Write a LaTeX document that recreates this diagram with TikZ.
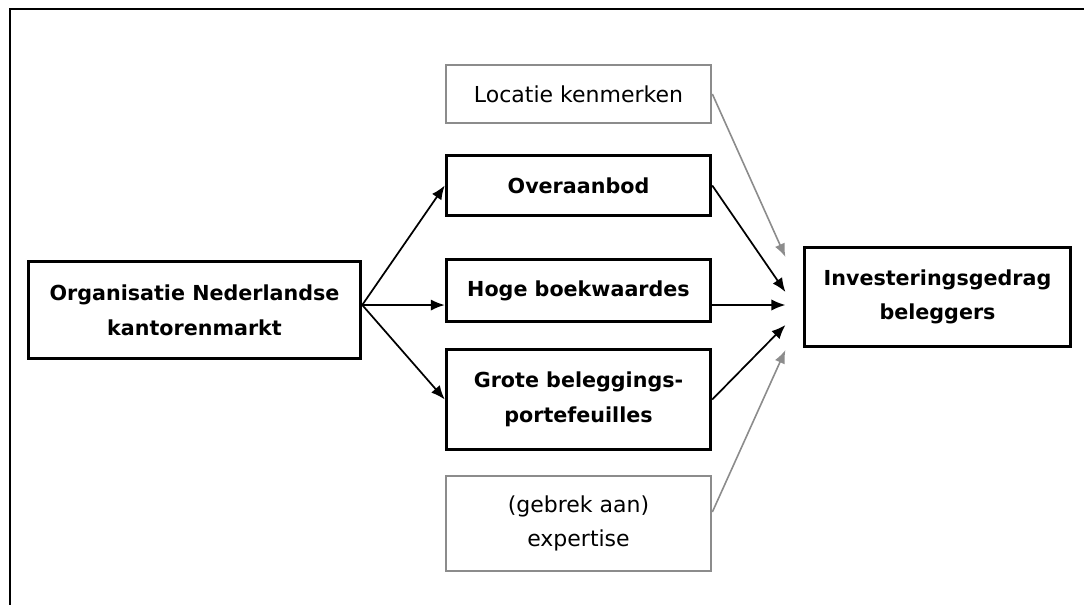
\documentclass[tikz,border=0pt]{standalone}
\usepackage{fontspec}
\setmainfont{DejaVu Sans}
\usetikzlibrary{arrows.meta}
\definecolor{boxgray}{HTML}{8C8C8C}

\begin{document}
\begin{tikzpicture}[x=0.75pt,y=-0.75pt,>={Latex[length=10.5pt,width=8.5pt]},
    factor/.style={draw,line width=2.6pt,minimum width=198pt,align=center,inner sep=0pt,
                   font=\bfseries\fontsize{15.5}{26}\selectfont},
    extra/.style={draw=boxgray,line width=2pt,minimum width=198.75pt,align=center,inner sep=0pt,
                  font=\fontsize{16.5}{26}\selectfont},
    pil/.style={->,line width=1.3pt},
    grijs/.style={->,line width=1.2pt,draw=boxgray,fill=boxgray,>={Latex[length=10pt,width=8pt]}}
    ]
    \useasboundingbox (0,0) rectangle (1084,605);
    % kader
    \draw[line width=1.8pt] (10,605) -- (10,9) -- (1084,9);
    \node (org) [factor,minimum width=249pt,minimum height=72.75pt] at (194.5,310) {Organisatie Nederlandse\\kantorenmarkt};
    \node (loc) [extra,minimum height=43.5pt] at (578.5,94) {Locatie kenmerken};
    \node (over) [factor,minimum height=45pt] at (578.5,185.5) {Overaanbod};
    \node (hoge) [factor,minimum height=46.5pt] at (578.5,290.5) {Hoge boekwaardes};
    \node (grote) [factor,minimum height=75pt] at (578.5,399.5) {Grote beleggings-\\portefeuilles};
    \node (gebrek) [extra,minimum height=71.25pt] at (578.5,523.5) {(gebrek aan)\\expertise};
    \node (inv) [factor,minimum width=199.5pt,minimum height=74.25pt] at (937.5,297) {Investeringsgedrag\\beleggers};
    % eindpunten bij investeringsgedrag
    \coordinate (t1) at ([xshift=-13pt,yshift=30pt]inv.west);
    \coordinate (t2) at ([xshift=-13pt,yshift=3.75pt]inv.west);
    \coordinate (t3) at ([xshift=-13pt,yshift=-6pt]inv.west);
    \coordinate (t4) at ([xshift=-13pt,yshift=-21pt]inv.west);
    \coordinate (t5) at ([xshift=-13pt,yshift=-39.75pt]inv.west);
    \draw[pil] ([yshift=3.75pt]org.east) -- (over.west);
    \draw[pil] ([yshift=3.75pt]org.east) -- ([yshift=-10.9pt]hoge.west);
    \draw[pil] ([yshift=3.75pt]org.east) -- (grote.west);
    \draw[grijs] (loc.east) -- (t1);
    \draw[pil] (over.east) -- (t2);
    \draw[pil] ([yshift=-10.9pt]hoge.east) -- (t3);
    \draw[pil] (grote.east) -- (t4);
    \draw[grijs] ([yshift=8.6pt]gebrek.east) -- (t5);
\end{tikzpicture}
\end{document}
